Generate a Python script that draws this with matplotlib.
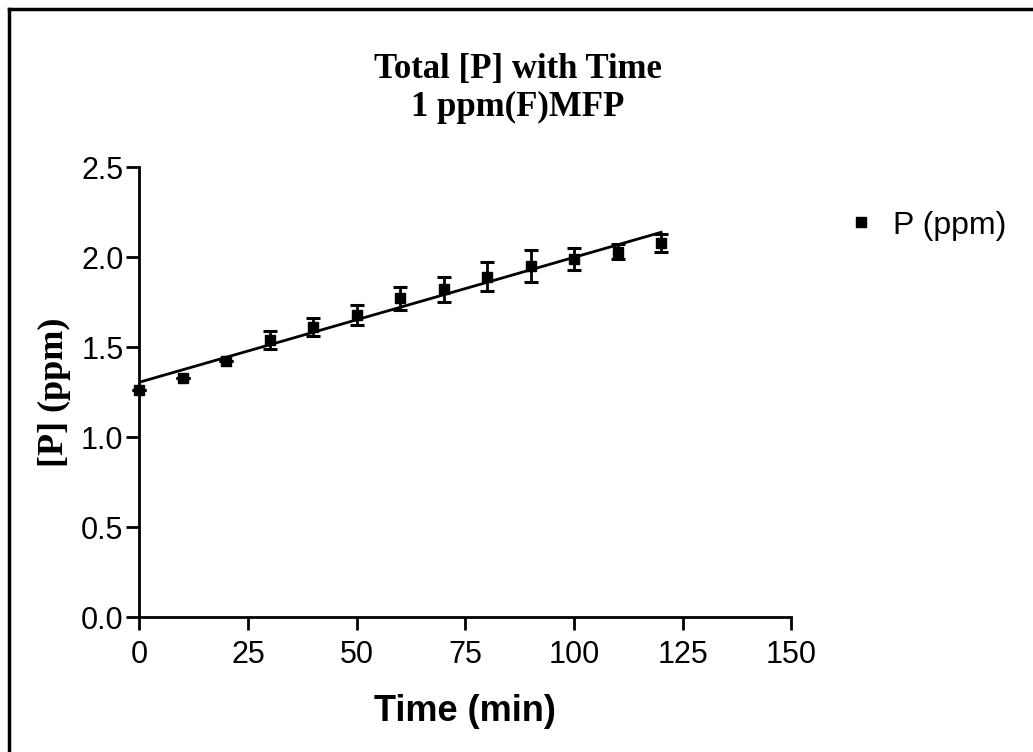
import numpy as np
import matplotlib
matplotlib.use("Agg")
import matplotlib.pyplot as plt
from matplotlib.lines import Line2D

# data
time_min = [0, 10, 20, 30, 40, 50, 60, 70, 80, 90, 100, 110, 120]
p_ppm = [1.26, 1.33, 1.42, 1.54, 1.61, 1.68, 1.77, 1.82, 1.89, 1.95, 1.99, 2.03, 2.08]
p_err = [0.0, 0.0, 0.0, 0.05, 0.05, 0.055, 0.065, 0.07, 0.08, 0.09, 0.06, 0.04, 0.05]

x_ticks = [0, 25, 50, 75, 100, 125, 150]
y_ticks = [0.0, 0.5, 1.0, 1.5, 2.0, 2.5]

fig = plt.figure(figsize=(10.33, 7.52), dpi=100)
ax = fig.add_axes([0.1349, 0.1795, 0.6313, 0.5984])

# linear fit
slope, intercept = np.polyfit(time_min, p_ppm, 1)
xf = np.array([time_min[0], time_min[-1]])
ax.plot(xf, intercept + slope * xf, color="black", lw=2.0)

ax.errorbar(time_min, p_ppm, yerr=p_err, fmt="s", color="black", ms=7.5,
            elinewidth=2.0, capsize=5, capthick=2.2, clip_on=False)

ax.set_xlim(0, 150)
ax.set_ylim(0, 2.5)
ax.set_xticks(x_ticks)
ax.set_yticks(y_ticks)
ax.set_xticklabels([str(t) for t in x_ticks])
ax.set_yticklabels(["%.1f" % t for t in y_ticks])
ax.spines["top"].set_visible(False)
ax.spines["right"].set_visible(False)
for s in ["left", "bottom"]:
    ax.spines[s].set_linewidth(2.0)
ax.tick_params(direction="out", length=9.5, width=2.0, labelsize=22)
ax.tick_params(axis="x", pad=7)
ax.tick_params(axis="y", pad=2)
for lab in ax.get_xticklabels() + ax.get_yticklabels():
    lab.set_fontfamily("Liberation Sans")
    lab.set_fontweight("medium")

ax.set_xlabel("Time (min)", fontsize=26, fontweight="bold",
              fontfamily="Liberation Sans", labelpad=17)
ax.set_ylabel("[P] (ppm)", fontsize=26, fontweight="bold",
              fontfamily="Liberation Serif", labelpad=7)

fig.text(0.501, 0.93, "Total [P] with Time\n1 ppm(F)MFP", ha="center", va="top",
         fontsize=25, fontweight="bold", fontfamily="Liberation Serif",
         linespacing=1.22)

handle = Line2D([], [], marker="s", ls="none", color="black", ms=6.5)
fig.legend([handle], ["P (ppm)"], loc="center left",
           bbox_to_anchor=(0.79, 0.70), frameon=False,
           prop={"family": "Liberation Sans", "size": 23},
           handletextpad=0.5, handlelength=1.0)

# outer frame (left and top edges visible)
fig.add_artist(Line2D([0.0087, 0.0087], [0.0, 0.988], transform=fig.transFigure,
                      color="black", lw=2.5))
fig.add_artist(Line2D([0.0087, 1.0], [0.988, 0.988], transform=fig.transFigure,
                      color="black", lw=2.5))

fig.savefig("out.png", dpi=100)
